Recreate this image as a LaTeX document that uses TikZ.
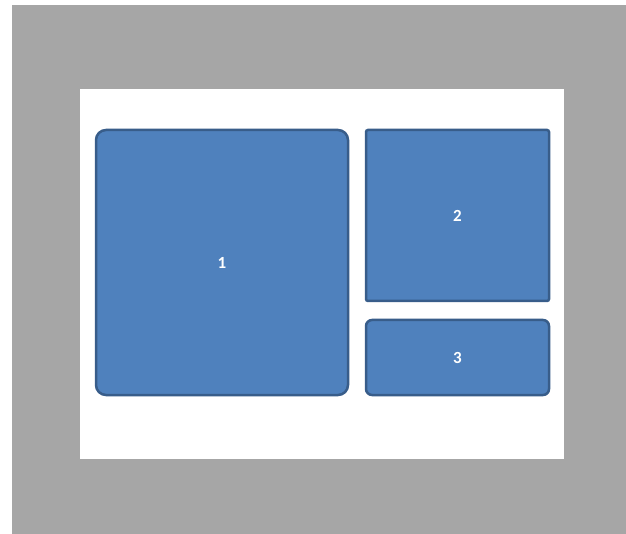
\documentclass[tikz,border=0pt]{standalone}
\usepackage{fontspec}
\setmainfont{Carlito}
\definecolor{panelgray}{HTML}{A6A6A6}
\definecolor{boxfill}{HTML}{4F81BD}
\definecolor{boxline}{HTML}{385D8A}
\begin{document}
\begin{tikzpicture}[x=1pt,y=-1pt,
  panel/.style={draw=boxline,fill=boxfill,line width=2.5pt,text=white,font=\bfseries\fontsize{17}{20}\selectfont}]
\useasboundingbox (0,0) rectangle (626,534);
\fill[white] (0,0) rectangle (626,534);
\fill[panelgray] (12,5) rectangle (626,534);
\fill[white] (80,89) rectangle (564,459);
\draw[panel,rounded corners=10pt] (96,130) rectangle (348,395) node[midway] (b1) {1};
\draw[panel,rounded corners=2pt] (366,130) rectangle (549,301) node[midway] (b2) {2};
\draw[panel,rounded corners=6pt] (366,320) rectangle (549,395) node[midway] (b3) {3};
\end{tikzpicture}
\end{document}
